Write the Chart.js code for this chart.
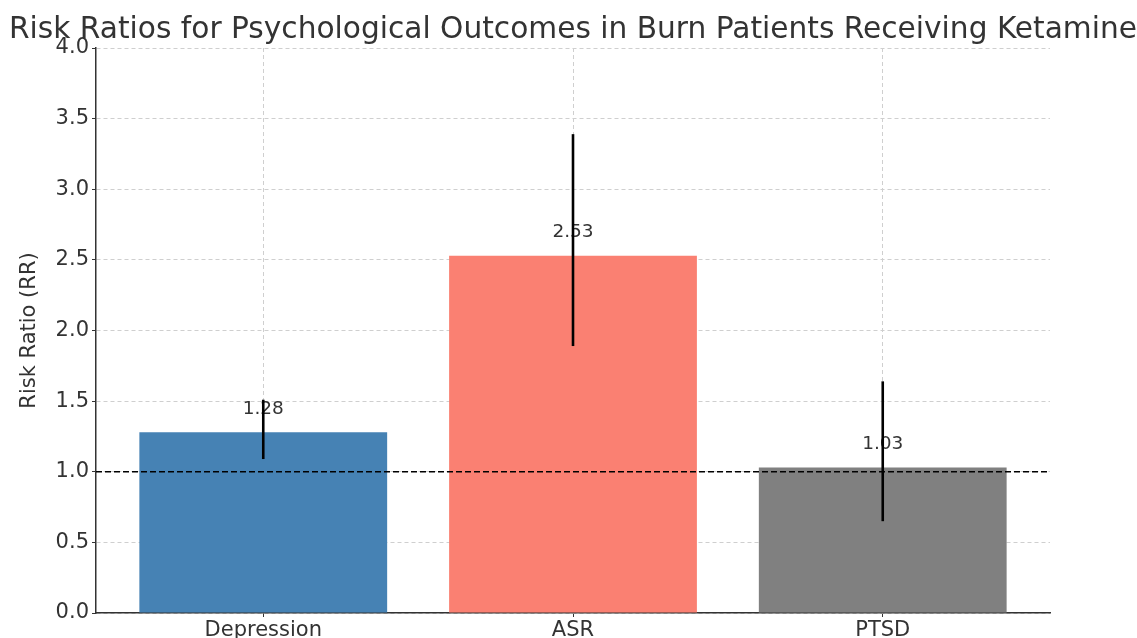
<!DOCTYPE html>
<html lang="en">
<head>
<meta charset="UTF-8">
<title>Risk Ratios for Psychological Outcomes</title>
<style>
  html, body { margin: 0; padding: 0; background: #fff; overflow: hidden; }
  #chart { display: block; }
</style>
</head>
<body>
<canvas id="chart" width="1137" height="650"></canvas>
<script src="https://cdn.jsdelivr.net/npm/chart.js"></script>
<script>
// data
const categories = ['Depression', 'ASR', 'PTSD'];
const riskRatios = [1.28, 2.53, 1.03];
const lowerCI = [1.09, 1.89, 0.65];
const upperCI = [1.51, 3.39, 1.64];
const barColors = ['#4682B4', '#FA8072', '#808080'];
const refValue = 1.0;

const FONT = 'DejaVu Sans';
const TEXT = '#333';

// value labels, error bars and the RR = 1 reference line
const overlayPlugin = {
  id: 'overlay',
  afterDatasetsDraw(chart) {
    const ctx = chart.ctx;
    const x = chart.scales.x, y = chart.scales.y;
    const area = chart.chartArea;
    ctx.save();

    // dashed line at 1.0
    ctx.strokeStyle = '#000';
    ctx.lineWidth = 1.5;
    ctx.setLineDash([6, 3]);
    ctx.beginPath();
    ctx.moveTo(area.left, y.getPixelForValue(refValue));
    ctx.lineTo(area.right, y.getPixelForValue(refValue));
    ctx.stroke();
    ctx.setLineDash([]);

    // value text
    ctx.fillStyle = TEXT;
    ctx.font = '18.5px "' + FONT + '"';
    ctx.textAlign = 'center';
    ctx.textBaseline = 'bottom';
    riskRatios.forEach((v, i) => {
      ctx.fillText(v.toFixed(2), x.getPixelForValue(i), y.getPixelForValue(v + 0.1));
    });

    // error bars (no caps)
    ctx.strokeStyle = '#000';
    ctx.lineWidth = 2.6;
    riskRatios.forEach((v, i) => {
      const px = x.getPixelForValue(i);
      ctx.beginPath();
      ctx.moveTo(px, y.getPixelForValue(lowerCI[i]));
      ctx.lineTo(px, y.getPixelForValue(upperCI[i]));
      ctx.stroke();
    });
    ctx.restore();
  }
};

new Chart(document.getElementById('chart'), {
  type: 'bar',
  data: {
    datasets: [{
      label: 'Risk Ratio',
      data: riskRatios.map((v, i) => ({ x: i, y: v })),
      backgroundColor: barColors,
      borderWidth: 0,
      barPercentage: 0.8,
      categoryPercentage: 1.0
    }]
  },
  options: {
    responsive: false,
    animation: false,
    layout: { padding: { left: 9, right: 0, top: 0, bottom: 0 } },
    plugins: {
      legend: { display: false },
      tooltip: { enabled: false },
      title: {
        display: true,
        text: 'Risk Ratios for Psychological Outcomes in Burn Patients Receiving Ketamine',
        color: TEXT,
        font: { family: FONT, size: 30, weight: 'normal' },
        padding: { top: 12, bottom: 0 }
      }
    },
    scales: {
      x: {
        type: 'linear',
        min: -0.54,
        max: 2.54,
        offset: false,
        afterBuildTicks: (axis) => { axis.ticks = categories.map((c, i) => ({ value: i })); },
        afterFit: (scale) => { scale.height = 37; },
        ticks: {
          color: TEXT,
          font: { family: FONT, size: 21 },
          padding: 1,
          maxRotation: 0,
          autoSkip: false,
          callback: (v) => categories[v]
        },
        grid: {
          offset: false,
          color: '#cfcfcf',
          tickColor: '#333',
          tickLength: 4
        },
        border: { display: true, color: '#333', width: 1.5, dash: [4, 3] }
      },
      y: {
        min: 0,
        max: 4,
        afterFit: (scale) => { scale.width = 87; },
        ticks: {
          stepSize: 0.5,
          color: TEXT,
          font: { family: FONT, size: 21 },
          padding: 3,
          callback: (v) => v.toFixed(1)
        },
        grid: {
          color: '#cfcfcf',
          tickColor: '#333',
          tickLength: 4
        },
        border: { display: true, color: '#333', width: 1.5, dash: [4, 3] },
        title: {
          display: true,
          text: 'Risk Ratio (RR)',
          color: TEXT,
          font: { family: FONT, size: 21 },
          padding: { top: 8, bottom: 0 }
        }
      },
      // empty right-hand box so the plot ends where the reference does
      yr: {
        position: 'right',
        min: 0,
        max: 1,
        afterFit: (scale) => { scale.width = 87; },
        ticks: { display: false },
        grid: { display: false },
        border: { display: false }
      }
    }
  },
  plugins: [overlayPlugin]
});
</script>
</body>
</html>
